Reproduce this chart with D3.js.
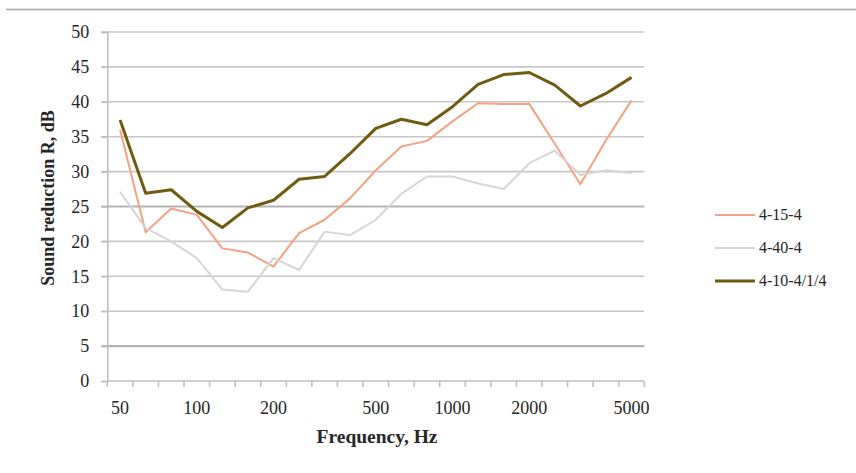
<!DOCTYPE html>
<html>
<head>
<meta charset="utf-8">
<script src="https://cdn.jsdelivr.net/npm/d3@7"></script>
<style>
  html, body { margin: 0; padding: 0; background: #ffffff; }
  svg { display: block; }
  text { font-family: "Liberation Serif", "Times New Roman", serif; fill: #262626; }
</style>
</head>
<body>
<svg id="chart" width="856" height="473"></svg>
<script>
// One-third-octave band centre frequencies (Hz)
const bands = ["50","63","80","100","125","160","200","250","315","400","500",
               "630","800","1000","1250","1600","2000","2500","3150","4000","5000"];
// Labels shown under the frequency axis (blank for unlabeled bands)
const bandLabels = ["50","","","100","","","200","","","","500",
                    "","","1000","","","2000","","","","5000"];
const yTicks = [0, 5, 10, 15, 20, 25, 30, 35, 40, 45, 50];

// Sound reduction index R (dB) per band
const r_4_15_4 = [36.0, 21.3, 24.7, 23.8, 19.0, 18.4, 16.4, 21.2, 23.1, 26.2, 30.2,
                  33.6, 34.4, 37.2, 39.8, 39.7, 39.7, 34.0, 28.2, 34.5, 40.2];
const r_4_40_4 = [27.1, 21.9, 20.0, 17.6, 13.1, 12.8, 17.6, 15.9, 21.4, 20.9, 23.1,
                  26.8, 29.3, 29.3, 28.3, 27.5, 31.2, 33.0, 29.5, 30.2, 29.8];
const r_4_10_4_1_4 = [37.4, 26.9, 27.4, 24.3, 22.0, 24.8, 25.9, 28.9, 29.3, 32.6, 36.2,
                      37.5, 36.7, 39.3, 42.5, 43.9, 44.2, 42.4, 39.4, 41.2, 43.5];

const seriesNames = ["4-15-4", "4-40-4", "4-10-4/1/4"];
const seriesColors = ["#f4a283", "#d6d6d6", "#6f5c12"];
const seriesWidths = [2, 2, 3];
const seriesValues = [r_4_15_4, r_4_40_4, r_4_10_4_1_4];

const svg = d3.select("#chart");

// thin rule across the top of the figure
svg.append("line")
  .attr("x1", 6).attr("x2", 856).attr("y1", 9.5).attr("y2", 9.5)
  .attr("stroke", "#a6a6a6").attr("stroke-width", 1.6);

const plotLeft = 107.3, plotRight = 644.3, plotTop = 32, plotBottom = 381;

const x = d3.scaleBand().domain(bands).range([plotLeft, plotRight]).padding(0);
const y = d3.scaleLinear().domain([0, 50]).range([plotBottom, plotTop]);

// horizontal gridlines (with short outer ticks on the value axis)
svg.append("g").selectAll("line")
  .data(yTicks.filter(d => d > 0))
  .join("line")
  .attr("x1", plotLeft - 6).attr("x2", plotRight)
  .attr("y1", d => y(d)).attr("y2", d => y(d))
  .attr("stroke", d => (d === 25 || d === 5) ? "#b4b4b4" : "#c8c8c8")
  .attr("stroke-width", d => (d === 25 || d === 5) ? 2.2 : 1.6);

// value axis
const yAxis = svg.append("g")
  .attr("transform", `translate(${plotLeft},0)`)
  .call(d3.axisLeft(y).tickValues(yTicks).tickSize(6).tickPadding(12).tickFormat(d3.format("d")));
yAxis.select(".domain").attr("stroke", "#c0c0c0").attr("stroke-width", 1.6);
yAxis.selectAll(".tick line").attr("stroke", "#c0c0c0").attr("stroke-width", 1.6);
yAxis.selectAll(".tick text")
  .style("font-family", "'Liberation Serif', 'Times New Roman', serif")
  .style("font-size", "18px").attr("fill", "#404040");

// frequency axis: labels centred on bands, ticks on band boundaries
const xAxis = svg.append("g")
  .attr("transform", `translate(0,${plotBottom})`)
  .call(d3.axisBottom(x).tickSize(0).tickPadding(20)
        .tickFormat((d, i) => bandLabels[i]));
xAxis.select(".domain").remove();
xAxis.selectAll(".tick text")
  .style("font-family", "'Liberation Serif', 'Times New Roman', serif")
  .style("font-size", "18px").attr("fill", "#404040");

svg.append("line")
  .attr("x1", plotLeft).attr("x2", plotRight).attr("y1", plotBottom).attr("y2", plotBottom)
  .attr("stroke", "#c0c0c0").attr("stroke-width", 1.6);

const edges = bands.map(b => x(b)).concat([x(bands[bands.length - 1]) + x.bandwidth()]);
svg.append("g").selectAll("line")
  .data(edges)
  .join("line")
  .attr("x1", d => d).attr("x2", d => d)
  .attr("y1", plotBottom).attr("y2", plotBottom + 6)
  .attr("stroke", "#c0c0c0").attr("stroke-width", 1.6);

// series lines
const line = d3.line()
  .x((d, i) => x(bands[i]) + x.bandwidth() / 2)
  .y(d => y(d));

seriesValues.forEach((vals, k) => {
  svg.append("path")
    .datum(vals)
    .attr("fill", "none")
    .attr("stroke", seriesColors[k])
    .attr("stroke-width", seriesWidths[k])
    .attr("stroke-linejoin", "round")
    .attr("d", line);
});

// axis titles
svg.append("text")
  .attr("transform", "translate(54,198) rotate(-90)")
  .attr("text-anchor", "middle")
  .style("font-size", "18px").style("font-weight", "bold")
  .attr("fill", "#1a1a1a")
  .text("Sound reduction R, dB");

svg.append("text")
  .attr("x", 377).attr("y", 443)
  .attr("text-anchor", "middle")
  .style("font-size", "19.5px").style("font-weight", "bold")
  .attr("fill", "#1a1a1a")
  .text("Frequency, Hz");

// legend
const legend = svg.append("g");
seriesNames.forEach((name, k) => {
  const ly = 215 + k * 33;
  legend.append("line")
    .attr("x1", 715).attr("x2", 755).attr("y1", ly).attr("y2", ly)
    .attr("stroke", seriesColors[k]).attr("stroke-width", seriesWidths[k]);
  legend.append("text")
    .attr("x", 759).attr("y", ly + 5)
    .style("font-size", "16px").attr("fill", "#404040")
    .text(name);
});
</script>
</body>
</html>
